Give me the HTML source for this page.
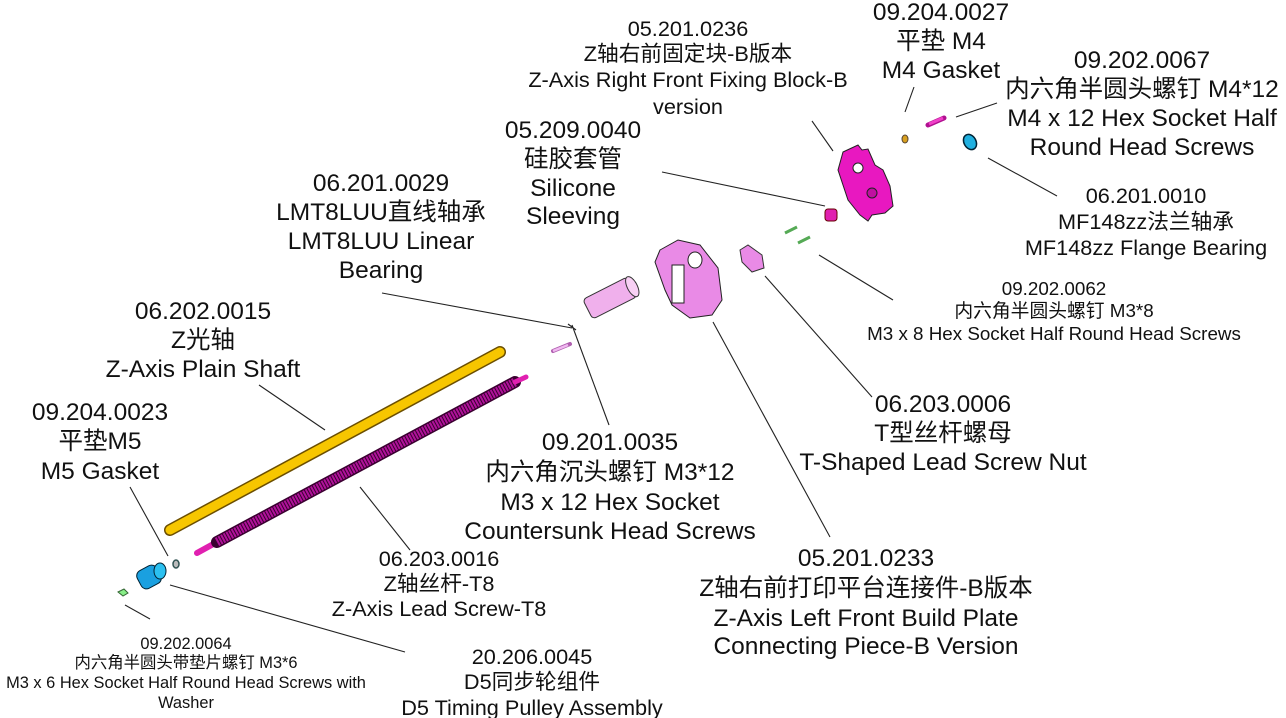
<!DOCTYPE html>
<html><head><meta charset="utf-8"><style>
html,body{margin:0;padding:0;background:#fff;}
svg{display:block;}
text{font-family:"Liberation Sans","Noto Sans CJK SC",sans-serif;fill:#111;text-anchor:middle;dominant-baseline:central;}
.l{font-size:24.5px}.m{font-size:21.7px}.s{font-size:16.4px}.t{font-size:18.8px}
</style></head><body>
<svg width="1286" height="718" viewBox="0 0 1286 718" xmlns="http://www.w3.org/2000/svg">
<g stroke="#222" stroke-width="1.1" fill="none">
<line x1="812" y1="121" x2="833" y2="151"/>
<line x1="914" y1="87" x2="905" y2="112"/>
<line x1="956" y1="117" x2="997" y2="103"/>
<line x1="988" y1="158" x2="1057" y2="196"/>
<line x1="662" y1="172" x2="825" y2="206"/>
<line x1="819" y1="255" x2="893" y2="300"/>
<line x1="765" y1="276" x2="872" y2="397"/>
<line x1="713" y1="322" x2="830" y2="537"/>
<line x1="572" y1="325" x2="609" y2="425"/>
<line x1="382" y1="293" x2="572" y2="328"/>
<line x1="568" y1="324" x2="576" y2="330"/>
<line x1="259" y1="385" x2="325" y2="430"/>
<line x1="360" y1="487" x2="410" y2="550"/>
<line x1="130" y1="487" x2="168" y2="556"/>
<line x1="170" y1="585" x2="405" y2="652"/>
<line x1="125" y1="605" x2="150" y2="619"/>
</g>
<line x1="170" y1="530" x2="500" y2="352" stroke="#6b4e00" stroke-width="12" stroke-linecap="round"/>
<line x1="170" y1="530" x2="500" y2="352" stroke="#f7c600" stroke-width="9" stroke-linecap="round"/>
<line x1="197" y1="553" x2="217" y2="542" stroke="#e020b0" stroke-width="6" stroke-linecap="round"/>
<line x1="217" y1="542" x2="515" y2="382" stroke="#3a0030" stroke-width="12" stroke-linecap="round"/>
<line x1="217" y1="542" x2="515" y2="382" stroke="#b0129a" stroke-width="9" stroke-dasharray="2 1"/>
<line x1="515" y1="382" x2="526" y2="377" stroke="#e020b0" stroke-width="5" stroke-linecap="round"/>
<ellipse cx="176" cy="564" rx="3" ry="4" fill="#bbb" stroke="#355" stroke-width="1.5"/>
<rect x="138" y="567" width="22" height="20" rx="6" transform="rotate(-28 149 577)" fill="#1aa0e0" stroke="#023" stroke-width="1"/>
<ellipse cx="160" cy="571" rx="6" ry="8" fill="#2bc0f0" stroke="#023"/>
<path d="M118 592 l6 -3 l4 4 l-5 3 z" fill="#8e8" stroke="#363"/>
<line x1="553" y1="351" x2="570" y2="344" stroke="#b060b0" stroke-width="4" stroke-linecap="round"/>
<line x1="553" y1="351" x2="568" y2="345" stroke="#f0b8f0" stroke-width="2.5"/>
<g transform="rotate(-27 610 298)">
<rect x="585" y="287" width="50" height="22" rx="4" fill="#f0b0ec" stroke="#333"/>
<ellipse cx="635" cy="298" rx="5" ry="11" fill="#f8d0f4" stroke="#333"/>
</g>
<path d="M660 250 L678 240 L700 245 L718 268 L722 300 L712 315 L690 318 L672 305 L665 290 L655 262 Z" fill="#e98ae6" stroke="#222"/>
<ellipse cx="695" cy="260" rx="7" ry="8" fill="#fff" stroke="#222"/>
<rect x="672" y="265" width="12" height="38" fill="#fff" stroke="#222"/>
<path d="M740 250 L748 245 L762 255 L764 268 L752 272 L742 262 Z" fill="#e98ae6" stroke="#333"/>
<line x1="785" y1="233" x2="797" y2="227" stroke="#5a5" stroke-width="3"/>
<line x1="798" y1="243" x2="810" y2="237" stroke="#5a5" stroke-width="3"/>
<rect x="825" y="209" width="12" height="12" rx="3" fill="#e020b0" stroke="#600"/>
<path d="M843 152 L858 145 L862 150 L868 149 L875 165 L883 170 L890 186 L893 206 L885 213 L872 215 L868 221 L860 215 L848 200 L838 170 Z" fill="#e818c0" stroke="#222"/>
<circle cx="858" cy="168" r="5" fill="#fff" stroke="#222"/>
<circle cx="872" cy="193" r="5" fill="#c010a0" stroke="#222"/>
<ellipse cx="905" cy="139" rx="3" ry="4" fill="#d8a020" stroke="#543"/>
<line x1="928" y1="125" x2="944" y2="118" stroke="#b01090" stroke-width="5" stroke-linecap="round"/>
<line x1="929" y1="124" x2="943" y2="118" stroke="#f040c8" stroke-width="3"/>
<ellipse cx="970" cy="142" rx="6" ry="8" transform="rotate(-30 970 142)" fill="#20b0e0" stroke="#023" stroke-width="1.5"/>
<text class="m"><tspan x="688" y="28">05.201.0236</tspan><tspan x="688" y="53">Z轴右前固定块-B版本</tspan><tspan x="688" y="79">Z-Axis Right Front Fixing Block-B</tspan><tspan x="688" y="106">version</tspan></text>
<text class="l"><tspan x="941" y="12">09.204.0027</tspan><tspan x="941" y="41">平垫 M4</tspan><tspan x="941" y="70">M4 Gasket</tspan></text>
<text class="l"><tspan x="1142" y="60">09.202.0067</tspan><tspan x="1142" y="89">内六角半圆头螺钉 M4*12</tspan><tspan x="1142" y="118">M4 x 12 Hex Socket Half</tspan><tspan x="1142" y="147">Round Head Screws</tspan></text>
<text class="l"><tspan x="573" y="130">05.209.0040</tspan><tspan x="573" y="159">硅胶套管</tspan><tspan x="573" y="188">Silicone</tspan><tspan x="573" y="216">Sleeving</tspan></text>
<text class="m"><tspan x="1146" y="195">06.201.0010</tspan><tspan x="1146" y="221">MF148zz法兰轴承</tspan><tspan x="1146" y="247">MF148zz Flange Bearing</tspan></text>
<text class="l"><tspan x="381" y="183">06.201.0029</tspan><tspan x="381" y="212">LMT8LUU直线轴承</tspan><tspan x="381" y="241">LMT8LUU Linear</tspan><tspan x="381" y="270">Bearing</tspan></text>
<text class="t"><tspan x="1054" y="288">09.202.0062</tspan><tspan x="1054" y="310">内六角半圆头螺钉 M3*8</tspan><tspan x="1054" y="333">M3 x 8 Hex Socket Half Round Head Screws</tspan></text>
<text class="l"><tspan x="203" y="311">06.202.0015</tspan><tspan x="203" y="340">Z光轴</tspan><tspan x="203" y="369">Z-Axis Plain Shaft</tspan></text>
<text class="l"><tspan x="100" y="412">09.204.0023</tspan><tspan x="100" y="441">平垫M5</tspan><tspan x="100" y="471">M5 Gasket</tspan></text>
<text class="l"><tspan x="943" y="404">06.203.0006</tspan><tspan x="943" y="433">T型丝杆螺母</tspan><tspan x="943" y="462">T-Shaped Lead Screw Nut</tspan></text>
<text class="l"><tspan x="610" y="442">09.201.0035</tspan><tspan x="610" y="472">内六角沉头螺钉 M3*12</tspan><tspan x="610" y="502">M3 x 12 Hex Socket</tspan><tspan x="610" y="531">Countersunk Head Screws</tspan></text>
<text class="m"><tspan x="439" y="558">06.203.0016</tspan><tspan x="439" y="583">Z轴丝杆-T8</tspan><tspan x="439" y="608">Z-Axis Lead Screw-T8</tspan></text>
<text class="l"><tspan x="866" y="558">05.201.0233</tspan><tspan x="866" y="588">Z轴右前打印平台连接件-B版本</tspan><tspan x="866" y="618">Z-Axis Left Front Build Plate</tspan><tspan x="866" y="646">Connecting Piece-B Version</tspan></text>
<text class="s"><tspan x="186" y="644">09.202.0064</tspan><tspan x="186" y="663">内六角半圆头带垫片螺钉 M3*6</tspan><tspan x="186" y="683">M3 x 6 Hex Socket Half Round Head Screws with</tspan><tspan x="186" y="703">Washer</tspan></text>
<text class="m"><tspan x="532" y="656">20.206.0045</tspan><tspan x="532" y="681">D5同步轮组件</tspan><tspan x="532" y="707">D5 Timing Pulley Assembly</tspan></text>
</svg>
</body></html>
